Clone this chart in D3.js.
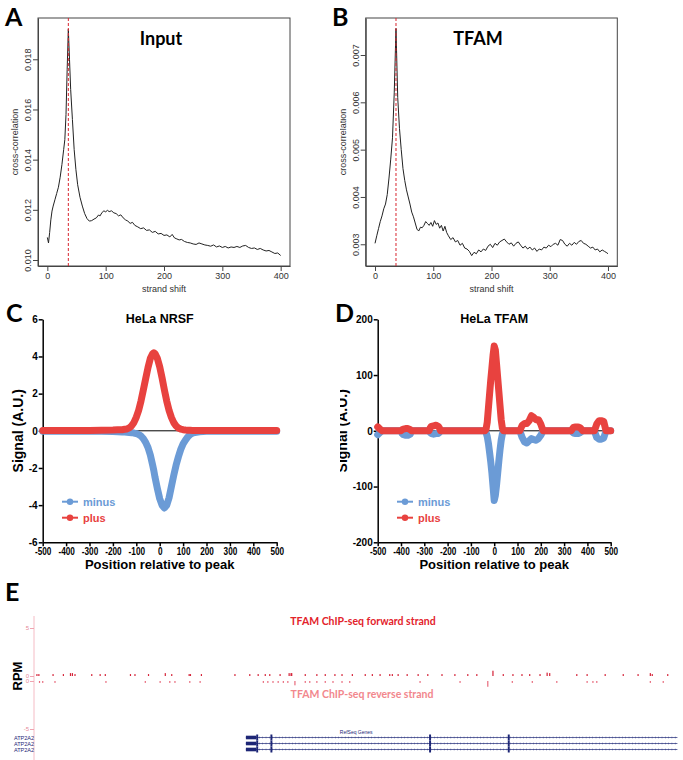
<!DOCTYPE html>
<html>
<head>
<meta charset="utf-8">
<script src="https://d3js.org/d3.v7.min.js"></script>
<style>
  body { margin: 0; background: #fff; }
  svg { display: block; }
  .letra { font-family: Lato, "Open Sans", sans-serif; font-weight: bold; font-size: 25px; fill: #000; }
  .ejeR text { font-family: "Liberation Sans", Arial, sans-serif; font-size: 9px; fill: #333; }
  .ejeR line, .ejeR path { stroke: #444; }
  .ejeG text { font-family: "Liberation Sans", Arial, sans-serif; font-weight: bold; font-size: 10px; fill: #000; }
  .ejeG line, .ejeG path { stroke: #000; stroke-width: 1.5; }
  .ejeE text { font-family: "Liberation Sans", Arial, sans-serif; font-size: 6px; fill: #e58a98; }
  .ejeE line { stroke: #f0a4b0; }
  .ejeE path { stroke: none; }
</style>
</head>
<body>
<div id="figura"></div>
<script>
// ---- Datos panel A (Input, correlacion cruzada) ----
const shiftInput = [
  0, 2, 4, 6, 8, 10, 13, 16, 19, 22,
  25, 28, 30, 32, 34, 36, 38, 40, 43, 46,
  49, 52, 56, 60, 64, 68, 72, 76, 80, 84,
  88, 90, 94, 97, 100, 103, 106, 110, 114, 118,
  122, 126, 130, 134, 138, 142, 146, 150, 155, 160,
  165, 170, 175, 180, 185, 190, 195, 200, 205, 210,
  214, 218, 222, 226, 230, 235, 240, 245, 250, 255,
  260, 265, 270, 275, 280, 285, 290, 295, 300, 305,
  310, 315, 320, 325, 330, 335, 340, 345, 350, 355,
  360, 365, 370, 375, 380, 385, 390, 395, 400]
const ccInput = [
  .01090, .01068, .01110, .01160, .01195, .01215, .01240, .01265, .01290, .01330,
  .01380, .01440, .01480, .01580, .01760, .01920, .01800, .01680, .01560, .01440,
  .01360, .01300, .01250, .01215, .01185, .01165, .01155, .01157, .01163, .01168,
  .01180, .01175, .01190, .01196, .01192, .01198, .01193, .01196, .01188, .01185,
  .01176, .01180, .01168, .01160, .01155, .01146, .01150, .01138, .01132, .01125,
  .01128, .01118, .01120, .01110, .01114, .01104, .01106, .01098, .01100, .01092,
  .01102, .01088, .01084, .01080, .01082, .01074, .01070, .01068, .01064, .01062,
  .01068, .01064, .01060, .01058, .01055, .01060, .01052, .01056, .01050, .01054,
  .01048, .01052, .01050, .01054, .01050, .01056, .01058, .01050, .01046, .01048,
  .01042, .01046, .01040, .01036, .01038, .01032, .01026, .01028, .01018]

// ---- Datos panel B (TFAM, correlacion cruzada) ----
const shiftTfam = [
  0, 3, 6, 9, 12, 15, 18, 21, 24, 27,
  30, 33, 36, 39, 42, 45, 48, 51, 54, 57,
  60, 63, 66, 69, 72, 75, 78, 81, 84, 87,
  90, 93, 96, 99, 102, 105, 108, 111, 114, 117,
  120, 123, 126, 130, 134, 138, 142, 146, 150, 154,
  158, 162, 166, 170, 174, 178, 182, 186, 190, 194,
  198, 202, 206, 210, 214, 218, 222, 226, 230, 234,
  238, 242, 246, 250, 254, 258, 262, 266, 270, 274,
  278, 282, 286, 290, 294, 298, 302, 306, 310, 314,
  318, 322, 326, 330, 334, 338, 342, 346, 350, 354,
  358, 362, 366, 370, 374, 378, 382, 386, 390, 394,
  398, 400]
const ccTfam = [
  .00302, .00318, .00333, .00348, .00360, .00375, .00385, .00405, .00440, .00480,
  .00525, .00620, .00756, .00610, .00545, .00500, .00460, .00435, .00415, .00400,
  .00385, .00368, .00358, .00345, .00332, .00328, .00336, .00335, .00340, .00348,
  .00344, .00340, .00346, .00338, .00350, .00342, .00345, .00334, .00340, .00328,
  .00338, .00325, .00318, .00310, .00314, .00305, .00308, .00298, .00302, .00292,
  .00290, .00285, .00276, .00283, .00280, .00288, .00284, .00290, .00287, .00296,
  .00300, .00293, .00302, .00298, .00305, .00308, .00311, .00305, .00300, .00303,
  .00296, .00302, .00305, .00298, .00292, .00296, .00290, .00294, .00288, .00292,
  .00285, .00290, .00288, .00294, .00292, .00298, .00295, .00300, .00302, .00298,
  .00310, .00308, .00300, .00296, .00302, .00298, .00304, .00300, .00306, .00308,
  .00302, .00300, .00296, .00292, .00294, .00288, .00290, .00284, .00288, .00285,
  .00282, .00280]

const ticksShift = [0, 100, 200, 300, 400]
const ticksInput = [0.010, 0.012, 0.014, 0.016, 0.018]
const ticksTfamCC = [0.003, 0.004, 0.005, 0.006, 0.007]
const picoShift = 36

// ---- Datos panel C (HeLa NRSF) ----
const posNrsf = [
  -500, -450, -400, -350, -300, -250, -200, -180, -160, -150,
  -140, -130, -120, -110, -100, -90, -80, -70, -60, -50,
  -40, -30, -25, -20, -10, 0, 10, 20, 30, 40,
  50, 60, 70, 80, 90, 100, 110, 120, 130, 140,
  150, 170, 200, 250, 300, 350, 400, 450, 500]
const nrsfPlus = [
  0.02, 0.02, 0.02, 0.02, 0.02, 0.03, 0.04, 0.05, 0.06, 0.08,
  0.10, 0.16, 0.27, 0.45, 0.73, 1.10, 1.60, 2.20, 2.80, 3.40,
  3.90, 4.15, 4.20, 4.15, 3.90, 3.45, 2.85, 2.20, 1.60, 1.10,
  0.72, 0.44, 0.26, 0.15, 0.09, 0.06, 0.04, 0.03, 0.03, 0.02,
  0.02, 0.02, 0.02, 0.02, 0.02, 0.02, 0.02, 0.02, 0.02]
const nrsfMinus = [
  -0.02, -0.02, -0.02, -0.02, -0.03, -0.03, -0.04, -0.05, -0.06, -0.07,
  -0.08, -0.09, -0.10, -0.12, -0.15, -0.20, -0.28, -0.42, -0.62, -0.90,
  -1.30, -1.85, -2.15, -2.50, -3.10, -3.65, -4.00, -4.15, -4.00, -3.60,
  -3.00, -2.40, -1.85, -1.40, -1.00, -0.70, -0.50, -0.33, -0.20, -0.13,
  -0.09, -0.05, -0.03, -0.02, -0.02, -0.02, -0.02, -0.02, -0.02]

// ---- Datos panel D (HeLa TFAM) ----
const posTfam = [
  -500, -490, -480, -400, -395, -390, -380, -370, -360, -355,
  -350, -280, -275, -270, -260, -250, -240, -235, -230, -50,
  -40, -35, -30, -25, -20, -15, -10, -5, 0, 5,
  10, 15, 20, 25, 30, 35, 40, 50, 100, 110,
  120, 130, 140, 150, 160, 170, 180, 190, 200, 210,
  220, 320, 330, 340, 350, 360, 370, 380, 420, 430,
  440, 450, 460, 470, 480, 490, 500]
const tfamPlus = [
  7, 3, 0, 0, 2, 3, 4, 4, 2, 0,
  0, 0, 5, 8, 9, 10, 8, 5, 0, 0,
  0, 3, 15, 40, 65, 90, 112, 135, 152, 145,
  120, 95, 70, 45, 20, 5, 0, 0, 0, 0,
  10, 13, 13, 18, 27, 24, 20, 20, 12, 0,
  0, 0, 0, 6, 7, 7, 5, 0, 0, 0,
  12, 18, 18, 17, 0, 0, 0]
const tfamMinus = [
  -7, -3, 0, 0, -5, -7, -8, -8, -6, 0,
  0, 0, -3, -5, -6, -5, -5, -3, 0, 0,
  0, -3, -10, -22, -38, -55, -75, -100, -125, -116,
  -98, -76, -54, -34, -17, -6, 0, 0, 0, 0,
  -12, -20, -22, -18, -14, -16, -17, -14, -8, 0,
  0, 0, 0, -4, -5, -5, -3, 0, 0, 0,
  -12, -15, -15, -13, 0, 0, 0]

const ticksPos = [-500, -400, -300, -200, -100, 0, 100, 200, 300, 400, 500]
const ticksNrsf = [-6, -4, -2, 0, 2, 4, 6]
const ticksTfamSig = [-200, -100, 0, 100, 200]

// ---- Datos panel E (pistas del navegador, posicion en kb) ----
const fwdKb = [
  0.3, 0.6, 2.8, 4.4, 5.5, 5.8, 6.2, 8.8, 10.1, 10.9,
  14.8, 15.5, 17.6, 20.2, 21.2, 23.9, 24.1, 25.8, 31.0, 33.3,
  34.6, 35.7, 36.4, 38.0, 39.4, 39.7, 39.8, 41.9, 43.7, 45.0,
  46.5, 47.6, 49.2, 51.2, 52.3, 53.5, 55.0, 55.4, 56.3, 57.7,
  59.4, 60.9, 63.1, 65.1, 67.1, 68.5, 71.0, 72.6, 74.1, 75.5,
  76.7, 78.3, 79.4, 79.8, 84.0, 85.6, 88.4, 91.2, 93.5, 95.4,
  95.7, 98.1]
const fwdRpm = [
  .2, .2, .2, .2, .3, .3, .2, .2, .2, .2,
  .2, .2, .2, .3, .2, .2, .2, .2, .2, .2,
  .2, .2, .2, .2, .3, .3, .3, .2, .2, .2,
  .2, .2, .2, .2, .2, .2, .2, .2, .2, .2,
  .2, .2, .2, .2, .2, .2, .55, .2, .2, .2,
  .2, .2, .35, .3, .2, .2, .2, .2, .2, .3,
  .2, .2]
const revKb = [
  0.7, 1.2, 3.1, 11.0, 17.1, 19.4, 20.9, 21.7, 24.0, 25.6,
  35.4, 36.1, 36.9, 37.7, 38.5, 39.2, 40.3, 41.9, 42.6, 43.7,
  45.0, 46.2, 47.6, 48.8, 59.7, 65.9, 70.2, 74.0, 77.1, 80.9,
  85.6, 86.5, 87.1, 95.4, 97.4]
const revRpm = [
  -.2, -.2, -.2, -.2, -.2, -.2, -.2, -.2, -.2, -.2,
  -.2, -.2, -.2, -.2, -.2, -.2, -.45, -.2, -.2, -.2,
  -.2, -.2, -.2, -.2, -.2, -.2, -.6, -.2, -.2, -.2,
  -.2, -.2, -.2, -.2, -.2]
const ticksRpmFwd = [0, 5]
const ticksRpmRev = [0, -5]

const geneNames = ["ATP2A2", "ATP2A2", "ATP2A2"]
const txStart = 32.7, txEnd = 99.6
const utrStart = [32.7], utrEnd = [34.3]
const exonStart = [34.3, 36.5, 61.1, 73.3]
const exonEnd = [34.6, 36.8, 61.4, 73.6]

// ---- Colores ----
const rojo = "#e8423f"
const azul = "#6b9bd6"
const marino = "#1d2676"

// guion normal en vez del signo menos de d3
const conGuion = d => String(d)

const svg = d3.select("#figura").append("svg")
    .attr("width", 683)
    .attr("height", 760)

svg.append("rect").attr("width", 683).attr("height", 760).attr("fill", "#fff")

svg.append("defs").append("clipPath")
    .attr("id", "corte")
  .append("rect")
    .attr("x", 340).attr("y", 0).attr("width", 343).attr("height", 760)

// ================= Paneles A y B (estilo R) =================
function panelR(cfg) {
  const x = d3.scaleLinear().domain([-16, 416]).range([cfg.left, cfg.right])
  const y = d3.scaleLinear().domain(cfg.yDomain).range([cfg.bottom, cfg.top])
  const g = svg.append("g")

  // eje x
  g.append("g")
      .attr("class", "ejeR")
      .attr("transform", `translate(0,${cfg.bottom})`)
      .call(d3.axisBottom(x).tickValues(ticksShift).tickSize(5).tickSizeOuter(0).tickPadding(2))

  // eje y con etiquetas giradas
  const ejeY = g.append("g")
      .attr("class", "ejeR")
      .attr("transform", `translate(${cfg.left},0)`)
      .call(d3.axisLeft(y).tickValues(cfg.yTicks).tickFormat(d3.format(".3f")).tickSize(5).tickSizeOuter(0))
  ejeY.selectAll(".tick text")
      .attr("x", null)
      .attr("dy", null)
      .attr("text-anchor", "middle")
      .attr("transform", "translate(-7,0) rotate(-90)")

  // caja
  g.append("rect")
      .attr("x", cfg.left).attr("y", cfg.top)
      .attr("width", cfg.right - cfg.left).attr("height", cfg.bottom - cfg.top)
      .attr("fill", "none").attr("stroke", "#444").attr("stroke-width", 1)

  // linea de datos
  const linea = d3.line()
      .x((d, i) => x(cfg.shifts[i]))
      .y(d => y(d))
  g.append("path")
      .datum(cfg.values)
      .attr("d", linea)
      .attr("fill", "none")
      .attr("stroke", "#222")
      .attr("stroke-width", 1)

  // pico
  g.append("line")
      .attr("x1", x(picoShift)).attr("x2", x(picoShift))
      .attr("y1", cfg.top).attr("y2", cfg.bottom)
      .attr("stroke", "#d8262f").attr("stroke-width", 1)
      .attr("stroke-dasharray", "3,2")

  // etiquetas
  g.append("text")
      .attr("x", (cfg.left + cfg.right) / 2).attr("y", 292)
      .attr("text-anchor", "middle")
      .attr("font-family", "Liberation Sans, Arial, sans-serif")
      .attr("font-size", "9px").attr("fill", "#333")
      .text("strand shift")

  const contenedor = cfg.clip ? g.append("g").attr("clip-path", "url(#corte)") : g
  contenedor.append("text")
      .attr("transform", `translate(${cfg.left - 20},${(cfg.top + cfg.bottom) / 2}) rotate(-90)`)
      .attr("text-anchor", "middle")
      .attr("font-family", "Liberation Sans, Arial, sans-serif")
      .attr("font-size", "9px").attr("fill", "#333")
      .text("cross-correlation")

  g.append("text")
      .attr("x", cfg.titleX).attr("y", 45)
      .attr("text-anchor", "middle")
      .attr("font-family", "Lato, Open Sans, sans-serif")
      .attr("font-weight", "bold").attr("font-size", "18px")
      .text(cfg.titulo)

  g.append("text").attr("class", "letra")
      .attr("x", cfg.letraX).attr("y", 26)
      .text(cfg.letra)
}

panelR({
  left: 38, right: 290, top: 18, bottom: 266,
  yDomain: [0.009761, 0.019646], yTicks: ticksInput,
  shifts: shiftInput, values: ccInput,
  titulo: "Input", titleX: 161, letra: "A", letraX: 5
})
panelR({
  left: 365.7, right: 617.3, top: 18, bottom: 266,
  yDomain: [0.002541, 0.007782], yTicks: ticksTfamCC,
  shifts: shiftTfam, values: ccTfam,
  titulo: "TFAM", titleX: 478, letra: "B", letraX: 332, clip: true
})

// ================= Paneles C y D (estilo GraphPad) =================
function panelG(cfg) {
  const x = d3.scaleLinear().domain([-500, 500]).range([cfg.axisX, cfg.right])
  const y = d3.scaleLinear().domain(cfg.yDomain).range([542.3, 319.3])
  const g = svg.append("g")

  // linea del cero
  g.append("line")
      .attr("x1", x(-500)).attr("x2", x(500))
      .attr("y1", y(0)).attr("y2", y(0))
      .attr("stroke", "#000").attr("stroke-width", 1)

  // ejes
  const ejeX = g.append("g")
      .attr("class", "ejeG")
      .attr("transform", `translate(0,${y(cfg.yDomain[0])})`)
      .call(d3.axisBottom(x).tickValues(ticksPos).tickFormat(conGuion)
        .tickSize(4).tickSizeOuter(0).tickPadding(2))
  // etiquetas estrechas como en el original
  ejeX.selectAll(".tick text")
      .attr("transform", "scale(0.82,1)")
  g.append("g")
      .attr("class", "ejeG")
      .attr("transform", `translate(${cfg.axisX},0)`)
      .call(d3.axisLeft(y).tickValues(cfg.yTicks).tickFormat(conGuion)
        .tickSize(4).tickSizeOuter(0).tickPadding(1))

  // series
  const linea = d3.line()
      .x((d, i) => x(cfg.pos[i]))
      .y(d => y(d))
  const series = [
    { nombre: "minus", valores: cfg.minus, color: azul },
    { nombre: "plus", valores: cfg.plus, color: rojo },
  ]
  series.forEach(s => {
    g.append("path")
        .datum(s.valores)
        .attr("d", linea)
        .attr("fill", "none")
        .attr("stroke", s.color)
        .attr("stroke-width", 7)
        .attr("stroke-linejoin", "round")
        .attr("stroke-linecap", "round")
  })

  // leyenda
  series.forEach((s, i) => {
    const fila = g.append("g")
        .attr("transform", `translate(${cfg.legX},${501.7 + i * 16})`)
    fila.append("line")
        .attr("x1", 0).attr("x2", 16)
        .attr("stroke", s.color).attr("stroke-width", 2)
    fila.append("circle")
        .attr("cx", 8).attr("r", 3.2)
        .attr("fill", s.color)
    fila.append("text")
        .attr("x", 21).attr("y", 4)
        .attr("font-family", "Liberation Sans, Arial, sans-serif")
        .attr("font-weight", "bold").attr("font-size", "11px")
        .attr("fill", s.color)
        .text(s.nombre)
  })

  // textos
  g.append("text")
      .attr("x", (cfg.axisX + cfg.right) / 2).attr("y", 323)
      .attr("text-anchor", "middle")
      .attr("font-family", "Liberation Sans, Arial, sans-serif")
      .attr("font-weight", "bold").attr("font-size", "12.5px")
      .text(cfg.titulo)

  g.append("text")
      .attr("x", (cfg.axisX + cfg.right) / 2).attr("y", 568.5)
      .attr("text-anchor", "middle")
      .attr("font-family", "Liberation Sans, Arial, sans-serif")
      .attr("font-weight", "bold").attr("font-size", "13px")
      .text("Position relative to peak")

  const contenedor = cfg.clip ? g.append("g").attr("clip-path", "url(#corte)") : g
  contenedor.append("text")
      .attr("transform", `translate(${cfg.ylabX},${y(0)}) rotate(-90)`)
      .attr("text-anchor", "middle")
      .attr("font-family", "Liberation Sans, Arial, sans-serif")
      .attr("font-weight", "bold").attr("font-size", "14px")
      .text("Signal (A.U.)")

  g.append("text").attr("class", "letra")
      .attr("x", cfg.letraX).attr("y", 322)
      .text(cfg.letra)
}

panelG({
  axisX: 42.7, right: 276.7, yDomain: [-6, 6], yTicks: ticksNrsf,
  pos: posNrsf, plus: nrsfPlus, minus: nrsfMinus,
  titulo: "HeLa NRSF", letra: "C", letraX: 6, legX: 62, ylabX: 22.5
})
panelG({
  axisX: 377.7, right: 610.7, yDomain: [-200, 200], yTicks: ticksTfamSig,
  pos: posTfam, plus: tfamPlus, minus: tfamMinus,
  titulo: "HeLa TFAM", letra: "D", letraX: 335, legX: 397, ylabX: 347, clip: true
})

// ================= Panel E (navegador genomico) =================
const xE = d3.scaleLinear().domain([0, 100]).range([35, 680])
const yF = d3.scaleLinear().domain([0, 5]).range([676, 628])
const yR = d3.scaleLinear().domain([0, -5]).range([681, 729])
const gE = svg.append("g")

gE.append("text").attr("class", "letra").attr("x", 5).attr("y", 601).text("E")

// eje vertical
gE.append("line")
    .attr("x1", 34).attr("x2", 34).attr("y1", 616).attr("y2", 760)
    .attr("stroke", "#f5bcc5").attr("stroke-width", 1)
gE.append("g").attr("class", "ejeE")
    .attr("transform", "translate(34,0)")
    .call(d3.axisLeft(yF).tickValues(ticksRpmFwd).tickFormat(conGuion).tickSize(4).tickPadding(1))
gE.append("g").attr("class", "ejeE")
    .attr("transform", "translate(34,0)")
    .call(d3.axisLeft(yR).tickValues(ticksRpmRev).tickFormat(conGuion).tickSize(4).tickPadding(1))

gE.append("text")
    .attr("transform", "translate(22,676) rotate(-90)")
    .attr("text-anchor", "middle")
    .attr("font-family", "Liberation Sans, Arial, sans-serif")
    .attr("font-weight", "bold").attr("font-size", "13px")
    .text("RPM")

// senal hebra directa
gE.append("g").selectAll("rect")
  .data(fwdRpm)
  .join("rect")
    .attr("x", (d, i) => xE(fwdKb[i]) - 0.6)
    .attr("width", 1.2)
    .attr("y", d => yF(d))
    .attr("height", d => yF(0) - yF(d))
    .attr("fill", "#d42036")

// senal hebra reversa
gE.append("g").selectAll("rect")
  .data(revRpm)
  .join("rect")
    .attr("x", (d, i) => xE(revKb[i]) - 0.6)
    .attr("width", 1.2)
    .attr("y", yR(0))
    .attr("height", d => yR(d) - yR(0))
    .attr("fill", "#e86a7c")

gE.append("text")
    .attr("x", 363).attr("y", 625)
    .attr("text-anchor", "middle")
    .attr("font-family", "Lato, Open Sans, sans-serif")
    .attr("font-weight", "bold").attr("font-size", "10.5px")
    .attr("fill", "#e3232b")
    .text("TFAM ChIP-seq forward strand")
gE.append("text")
    .attr("x", 362).attr("y", 697.5)
    .attr("text-anchor", "middle")
    .attr("font-family", "Lato, Open Sans, sans-serif")
    .attr("font-weight", "bold").attr("font-size", "10.5px")
    .attr("fill", "#f2878d")
    .text("TFAM ChIP-seq reverse strand")

// pista de genes
gE.append("text")
    .attr("x", xE(49.8)).attr("y", 734)
    .attr("text-anchor", "middle")
    .attr("font-family", "Liberation Sans, Arial, sans-serif")
    .attr("font-size", "5px").attr("fill", marino)
    .text("RefSeq Genes")

geneNames.forEach((nombre, i) => {
  const cy = 737.5 + i * 6
  const fila = gE.append("g")

  fila.append("text")
      .attr("x", 34).attr("y", cy + 2)
      .attr("text-anchor", "end")
      .attr("font-family", "Liberation Sans, Arial, sans-serif")
      .attr("font-size", "5.5px").attr("fill", marino)
      .text(nombre)

  // intron con marcas de direccion
  fila.append("line")
      .attr("x1", xE(txStart)).attr("x2", xE(txEnd))
      .attr("y1", cy).attr("y2", cy)
      .attr("stroke", marino).attr("stroke-width", 0.7)
  fila.append("line")
      .attr("x1", xE(txStart)).attr("x2", xE(txEnd))
      .attr("y1", cy).attr("y2", cy)
      .attr("stroke", marino).attr("stroke-width", 2.2)
      .attr("stroke-opacity", 0.55)
      .attr("stroke-dasharray", "0.6,2.7")

  // UTR (mas delgado)
  fila.selectAll("rect.utr")
    .data(utrStart)
    .join("rect")
      .attr("class", "utr")
      .attr("x", d => xE(d))
      .attr("width", (d, j) => xE(utrEnd[j]) - xE(d))
      .attr("y", cy - 1.8).attr("height", 3.6)
      .attr("fill", marino)

  // exones codificantes
  fila.selectAll("rect.exon")
    .data(exonStart)
    .join("rect")
      .attr("class", "exon")
      .attr("x", d => xE(d))
      .attr("width", (d, j) => Math.max(1.6, xE(exonEnd[j]) - xE(d)))
      .attr("y", cy - 3).attr("height", 6)
      .attr("fill", marino)
})
</script>
</body>
</html>
